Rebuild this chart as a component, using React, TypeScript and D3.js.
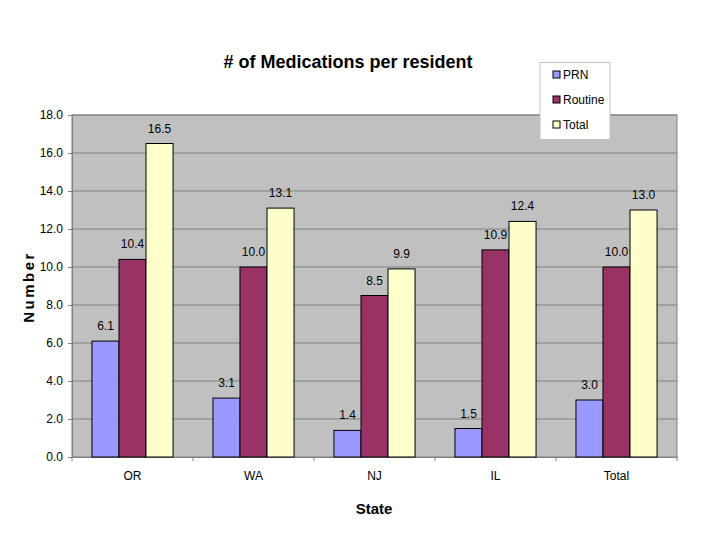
import { useEffect, useRef } from 'react';
import * as d3 from 'd3';

const states = ['OR', 'WA', 'NJ', 'IL', 'Total'];
const seriesNames = ['PRN', 'Routine', 'Total'];
const prnValues = [6.1, 3.1, 1.4, 1.5, 3.0];
const routineValues = [10.4, 10.0, 8.5, 10.9, 10.0];
const totalValues = [16.5, 13.1, 9.9, 12.4, 13.0];
const yTicks = [0, 2, 4, 6, 8, 10, 12, 14, 16, 18];
const colors = ['#9999FF', '#993366', '#FFFFCC'];

const App = () => {
  const ref = useRef<SVGSVGElement>(null);

  useEffect(() => {
    if (!ref.current) return;
    const svg = d3.select(ref.current);
    svg.selectAll('*').remove();

    const font = 'Liberation Sans, Arial, sans-serif';
    const left = 72, right = 677, top = 115, bottom = 457;

    const x0 = d3.scaleBand().domain(states).range([left, right]).paddingInner(0.33).paddingOuter(0.165);
    const x1 = d3.scaleBand().domain(seriesNames).range([0, x0.bandwidth()]);
    const y = d3.scaleLinear().domain([0, 18]).range([bottom, top]);

    const series = [prnValues, routineValues, totalValues];

    // Plot background
    svg.append('rect')
      .attr('x', left).attr('y', top)
      .attr('width', right - left).attr('height', bottom - top)
      .attr('fill', '#C0C0C0')
      .attr('stroke', '#808080');

    // Gridlines
    svg.append('g').selectAll('line')
      .data(yTicks.filter(d => d > 0))
      .enter().append('line')
      .attr('x1', left).attr('x2', right)
      .attr('y1', d => y(d)).attr('y2', d => y(d))
      .attr('stroke', '#808080').attr('stroke-width', 1);

    // Y axis
    const yAxis = svg.append('g')
      .attr('transform', `translate(${left},0)`)
      .call(d3.axisLeft(y).tickValues(yTicks).tickFormat(d3.format('.1f')).tickSize(4).tickPadding(5));
    yAxis.select('.domain').attr('stroke', '#808080');
    yAxis.selectAll('.tick line').attr('stroke', '#808080');
    yAxis.selectAll('text').attr('font-family', font).attr('font-size', 12).attr('fill', '#000');

    // X axis
    const xAxis = svg.append('g')
      .attr('transform', `translate(0,${bottom})`)
      .call(d3.axisBottom(x0).tickSize(0).tickPadding(14));
    xAxis.select('.domain').attr('stroke', '#808080');
    xAxis.selectAll('text').attr('font-family', font).attr('font-size', 12).attr('fill', '#000');
    const step = x0.step();
    svg.append('g').selectAll('line')
      .data(d3.range(states.length + 1))
      .enter().append('line')
      .attr('x1', i => left + i * step).attr('x2', i => left + i * step)
      .attr('y1', bottom).attr('y2', bottom + 4)
      .attr('stroke', '#808080');

    // Bars
    seriesNames.forEach((name, si) => {
      const g = svg.append('g');
      g.selectAll('rect')
        .data(series[si])
        .enter().append('rect')
        .attr('x', (_, i) => (x0(states[i]) || 0) + (x1(name) || 0))
        .attr('y', d => y(d))
        .attr('width', x1.bandwidth())
        .attr('height', d => bottom - y(d))
        .attr('fill', colors[si])
        .attr('stroke', '#000')
        .attr('stroke-width', 1);
      g.selectAll('text')
        .data(series[si])
        .enter().append('text')
        .attr('x', (_, i) => (x0(states[i]) || 0) + (x1(name) || 0) + x1.bandwidth() / 2)
        .attr('y', d => y(d) - 11)
        .attr('text-anchor', 'middle')
        .attr('font-family', font)
        .attr('font-size', 12)
        .text(d => d.toFixed(1));
    });

    // Title
    svg.append('text')
      .attr('x', 348).attr('y', 68)
      .attr('text-anchor', 'middle')
      .attr('font-family', font).attr('font-size', 18).attr('font-weight', 'bold')
      .text('# of Medications per resident');

    // Axis titles
    svg.append('text')
      .attr('x', 374).attr('y', 514)
      .attr('text-anchor', 'middle')
      .attr('font-family', font).attr('font-size', 15).attr('font-weight', 'bold')
      .text('State');
    svg.append('text')
      .attr('transform', 'translate(34,287) rotate(-90)')
      .attr('text-anchor', 'middle')
      .attr('font-family', font).attr('font-size', 15).attr('font-weight', 'bold')
      .attr('letter-spacing', 2.5)
      .text('Number');

    // Legend
    const legend = svg.append('g');
    legend.append('rect')
      .attr('x', 540).attr('y', 62.5).attr('width', 70).attr('height', 77)
      .attr('fill', '#fff').attr('stroke', '#C0C0C0');
    seriesNames.forEach((name, i) => {
      const yy = 75 + i * 25;
      legend.append('rect')
        .attr('x', 553).attr('y', yy - 4).attr('width', 7).attr('height', 7)
        .attr('fill', colors[i]).attr('stroke', '#000');
      legend.append('text')
        .attr('x', 563).attr('y', yy + 4)
        .attr('font-family', font).attr('font-size', 12)
        .text(name);
    });
  }, []);

  return <svg ref={ref} width={720} height={540} style={{ position: 'absolute', left: 0, top: 0 }} />;
};

export default App;
